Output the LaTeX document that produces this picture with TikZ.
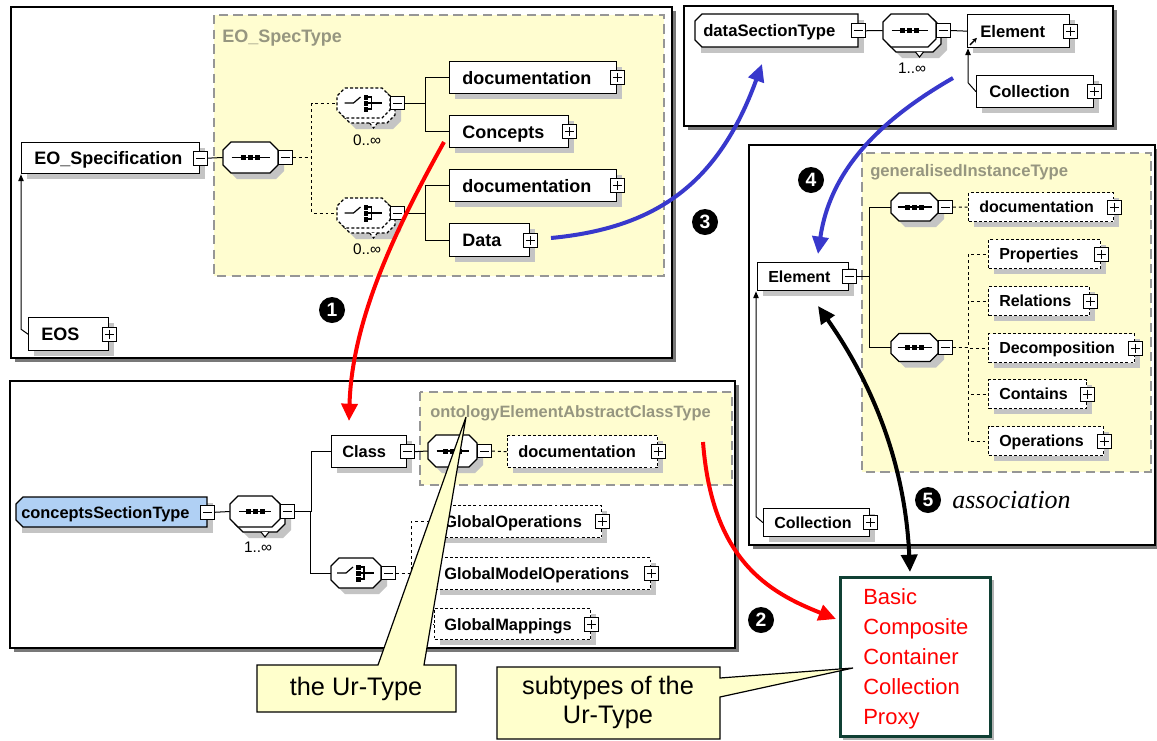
\documentclass[tikz,border=0pt]{standalone}
\usepackage{fontspec}
\setmainfont{Liberation Sans}
\newfontfamily\timesfont{Liberation Serif}
\usetikzlibrary{arrows.meta,calc}
\definecolor{ybg}{RGB}{255,253,208}
\definecolor{ybord}{RGB}{150,150,150}
\definecolor{ylab}{RGB}{150,150,128}
\definecolor{shad}{RGB}{196,196,196}
\definecolor{pshad}{RGB}{120,120,120}
\definecolor{callout}{RGB}{255,255,204}
\definecolor{arrblue}{RGB}{56,56,204}
\definecolor{arrred}{RGB}{255,0,0}
\definecolor{cblue}{RGB}{176,208,244}
\definecolor{bordteal}{RGB}{16,64,52}
\tikzset{
  elb/.style={draw, fill=white, line width=1pt, inner sep=0, anchor=north west},
  dsh/.style={dash pattern=on 2.2pt off 1.6pt},
  pmb/.style={draw, fill=white, line width=0.75pt, minimum size=10.3pt, inner sep=0},
  plusb/.style={pmb, path picture={
     \draw[line width=0.75pt] ([xshift=1.8pt]path picture bounding box.west) -- ([xshift=-1.8pt]path picture bounding box.east);
     \draw[line width=0.75pt] ([yshift=-1.8pt]path picture bounding box.north) -- ([yshift=1.8pt]path picture bounding box.south);}},
  minusb/.style={pmb, path picture={
     \draw[line width=0.75pt] ([xshift=1.8pt]path picture bounding box.west) -- ([xshift=-1.8pt]path picture bounding box.east);}},
  conn/.style={line width=0.75pt},
  dconn/.style={line width=0.75pt, dash pattern=on 2.2pt off 2.2pt},
  inh/.style={line width=0.75pt, -{Triangle[length=5pt,width=4pt]}},
  bigarrow/.style={line width=3pt, -{Triangle[length=13pt,width=12pt]}},
  num/.style={circle, fill=black, text=white, inner sep=0, minimum size=19.5pt, font=\fontsize{14.5}{14.5}\selectfont\bfseries},
  panel/.style={draw=black, fill=white, line width=1.3pt},
  ybox/.style={draw=ybord, fill=ybg, line width=1.1pt, dash pattern=on 7pt off 4pt},
  ylabel/.style={anchor=west, inner sep=0, text=ylab},
  eltext/.style={anchor=west, inner sep=0, font=\elfont, text height=\thh, text depth=0pt},
  mult/.style={inner sep=0, font=\fontsize{11.5}{12}\selectfont},
  redtxt/.style={anchor=base west, inner sep=0, text=arrred, font=\fontsize{16.5}{18}\selectfont},
  callouttxt/.style={inner sep=0, align=center, font=\fontsize{19}{22}\selectfont}
}
\def\elfont{\bfseries}\def\thh{9pt}\def\padpx{12}
\newcommand\elbox[7][]{%
  \fill[shad] (#3+6,#4+6) rectangle ++(#5,#6);
  \node[elb,minimum width=#5*0.75pt,minimum height=#6*0.75pt,#1] (#2) at (#3,#4) {};
  \node[eltext] (#2-t) at ($(#2.west)+(\padpx,0)$) {#7};}
\newcommand\lchambox[7]{%
  \fill[shad] (#3+6,#4+6) rectangle ++(#5,#6);
  \node[inner sep=0,anchor=north west,minimum width=#5*0.75pt,minimum height=#6*0.75pt] (#2) at (#3,#4) {};
  \draw[fill=#1,line width=1pt] (#3+7,#4) -- (#3+#5,#4) -- (#3+#5,#4+#6) -- (#3+7,#4+#6) -- (#3,#4+#6-7) -- (#3,#4+7) -- cycle;
  \node[eltext] (#2-t) at ($(#2.west)+(\padpx,0)$) {#7};}
\newcommand\plusat[1]{\node[plusb] (#1-p) at (#1.east) {};}
\newcommand\minusat[1]{\node[minusb] (#1-m) at (#1.east) {};}
\newcommand\minusafter[1]{\node[minusb,anchor=west] (#1-m) at (#1.east) {};}
\newcommand\octdraw[6]{%
  \path[#1] (#2+#6,#3) -- (#4-#6,#3) -- (#4,#3+#6) -- (#4,#5-#6) -- (#4-#6,#5) -- (#2+#6,#5) -- (#2,#5-#6) -- (#2,#3+#6) -- cycle;}
\newcommand\octo[7][]{%
  \pgfmathsetmacro\oL{#3-#5/2}\pgfmathsetmacro\oR{#3+#5/2}\pgfmathsetmacro\oT{#4-#6/2}\pgfmathsetmacro\oB{#4+#6/2}%
  \ifnum#7=1 \octdraw{fill=shad}{\oL+11}{\oT+11}{\oR+11}{\oB+11}{8}\fi
  \octdraw{fill=shad}{\oL+6}{\oT+6}{\oR+6}{\oB+6}{8}%
  \ifnum#7=1
    \octdraw{draw,fill=white,line width=0.9pt,#1}{\oL+5}{\oT+5}{\oR+5}{\oB+5}{8}%
    \draw[line width=0.8pt,fill=white,#1] (#3+6,\oB+5) -- (#3+10,\oB+10) -- (#3+14,\oB+5);
  \fi
  \octdraw{draw,fill=white,line width=1pt,#1}{\oL}{\oT}{\oR}{\oB}{8}%
  \node[inner sep=0,minimum width=#5*0.75pt,minimum height=#6*0.75pt] (#2) at (#3,#4) {};}
\newcommand\seqicon[3]{%
  \draw[line width=0.9pt] (#1-#3,#2) -- (#1+#3,#2);
  \foreach \ddx in {-7,0,7} {\fill (#1+\ddx-2.5,#2-2.5) rectangle ++(5,5);}}
\newcommand\choiceicon[2]{%
  \draw[line width=0.9pt] (#1-19,#2) -- (#1-10,#2) -- (#1-3,#2-6);
  \foreach \ddy in {-6,0,6} {\fill (#1,#2+\ddy-2) rectangle ++(4.5,4.5);}
  \draw[line width=0.9pt] (#1+4,#2-6) -- (#1+8,#2-6) -- (#1+8,#2+6) -- (#1+4,#2+6) (#1+4,#2) -- (#1+18,#2);}
\begin{document}
\begin{tikzpicture}[x=0.75pt,y=-0.75pt]
\useasboundingbox (0,0) rectangle (1157,740);
\fill[white] (0,0) rectangle (1157,740);
% ================= Panel 1
\fill[pshad] (15,11) rectangle (676,362);
\draw[panel] (11,7) rectangle (672,358);
\draw[ybox] (214,15) rectangle (664,276);
\node[ylabel,font=\fontsize{13.5}{16}\selectfont\bfseries] (lab1) at (222,38) {EO\_SpecType};
\def\elfont{\fontsize{13.5}{16}\selectfont\bfseries}\def\thh{9.7pt}\def\padpx{13}
\elbox{eospec}{21}{142}{178}{31}{EO\_Specification}\minusat{eospec}
\octo{seq1}{250.5}{157.5}{55}{31}{0}\seqicon{250.5}{157.5}{19}\minusafter{seq1}
\octo[dsh]{ch1}{363.5}{103}{53}{30}{1}\choiceicon{363.5}{103}\minusafter{ch1}
\node[mult] (ch1-x) at (367,140) {0..∞};
\octo[dsh]{ch2}{363.5}{213}{53}{30}{1}\choiceicon{363.5}{213}\minusafter{ch2}
\node[mult] (ch2-x) at (367,249) {0..∞};
\elbox{doc1}{449}{61}{167}{32}{documentation}\plusat{doc1}
\elbox{conc}{449}{115}{119}{32}{Concepts}\plusat{conc}
\elbox{doc2}{449}{169}{167}{32}{documentation}\plusat{doc2}
\elbox{data}{449}{223}{80}{33}{Data}\plusat{data}
\elbox{eos}{28}{317}{80}{33}{EOS}\plusat{eos}
\draw[conn] (eospec-m.east) -- (seq1.west);
\draw[dconn] (seq1-m.east) -| ([xshift=-18.75pt]ch1.west) -- (ch1.west);
\draw[dconn] (seq1-m.east) -| ([xshift=-18.75pt]ch2.west) -- (ch2.west);
\draw[conn] (ch1-m.east) -| ([xshift=-18pt]doc1.west) -- (doc1.west);
\draw[conn] (ch1-m.east) -| ([xshift=-18pt]conc.west) -- (conc.west);
\draw[conn] (ch2-m.east) -| ([xshift=-18pt]doc2.west) -- (doc2.west);
\draw[conn] (ch2-m.east) -| ([xshift=-18pt]data.west) -- (data.west);
\draw[inh] (eos.west) -- ++(-7,-5) -- (eospec.south west);
% ================= Panel 2
\fill[pshad] (688,10) rectangle (1117,130);
\draw[panel] (684,6) rectangle (1113,126);
\def\elfont{\fontsize{12.5}{15}\selectfont\bfseries}\def\thh{9pt}\def\padpx{8}
\lchambox{white}{dst}{695}{14}{163}{33}{dataSectionType}\minusat{dst}
\def\padpx{13}
\octo{seq2}{909.5}{30.5}{53}{33}{1}\seqicon{909.5}{30.5}{18}\minusafter{seq2}
\node[mult] (seq2-x) at (912,68) {1..∞};
\elbox{el2}{967}{14}{102}{33}{Element}\plusat{el2}
\draw[line width=1.1pt,-{Stealth[length=3.5pt,width=3.5pt]}] ([shift={(2.2pt,2.6pt)}]el2.south west) -- ++(7,-7);
\elbox{col2}{976}{75}{117}{32}{Collection}\plusat{col2}
\draw[conn] (dst-m.east) -- (seq2.west);
\draw[conn] (seq2-m.east) -- (el2.west);
\draw[inh] (col2.west) -- ++(-8,-9) -- ([xshift=0.75pt]el2.south west);
% ================= Panel 3
\fill[pshad] (753,149) rectangle (1159,549);
\draw[panel] (749,145) rectangle (1155,545);
\draw[ybox] (862,153) rectangle (1151,472);
\node[ylabel,font=\fontsize{12.5}{15}\selectfont\bfseries] (lab3) at (870,172) {generalisedInstanceType};
\def\elfont{\fontsize{12}{14}\selectfont\bfseries}\def\thh{8.6pt}\def\padpx{11}
\elbox{el3}{757}{262}{91}{28}{Element}\minusat{el3}
\octo{seq3a}{914.5}{207}{47}{28}{0}\seqicon{914.5}{207}{17}\minusafter{seq3a}
\octo{seq3b}{914.5}{347.5}{47}{28}{0}\seqicon{914.5}{347.5}{17}\minusafter{seq3b}
\elbox[dsh]{doc3}{968}{192}{145}{29}{documentation}\plusat{doc3}
\elbox[dsh]{props}{988}{239}{112}{29}{Properties}\plusat{props}
\elbox[dsh]{rels}{988}{286}{101}{29}{Relations}\plusat{rels}
\elbox[dsh]{decomp}{988}{333}{146}{29}{Decomposition}\plusat{decomp}
\elbox[dsh]{contains}{988}{379}{98}{29}{Contains}\plusat{contains}
\elbox[dsh]{opers}{988}{426}{115}{29}{Operations}\plusat{opers}
\elbox{col3}{763}{508}{106}{28}{Collection}\plusat{col3}
\draw[conn] (el3-m.east) -| ([xshift=-15.75pt]seq3a.west) -- (seq3a.west);
\draw[conn] (el3-m.east) -| ([xshift=-15.75pt]seq3b.west) -- (seq3b.west);
\draw[dconn] (seq3a-m.east) -- (doc3.west);
\foreach \nn in {props,rels,decomp,contains,opers}{
  \draw[dconn] (seq3b-m.east) -| ([xshift=-15pt]\nn.west) -- (\nn.west);}
\draw[inh] (col3.west) -- ++(-7,-6) -- ([xshift=-0.75pt]el3.south west);
\node[num] (n5) at (928,500) {5};
\node[anchor=base west,inner sep=0,font=\timesfont\itshape\fontsize{19.5}{22}\selectfont] (assoc) at (952,508) {association};
% ================= Panel 4
\fill[pshad] (14,385) rectangle (739,652);
\draw[panel] (10,381) rectangle (735,648);
\draw[ybox] (420,392) rectangle (732,485);
\node[ylabel,font=\fontsize{12.3}{15}\selectfont\bfseries] (lab4) at (430,413) {ontologyElementAbstractClassType};
\def\elfont{\fontsize{12.3}{14}\selectfont\bfseries}\def\thh{8.8pt}\def\padpx{5}
\lchambox{cblue}{cst}{16}{497}{191}{30}{conceptsSectionType}\minusat{cst}
\def\padpx{11}
\octo{seq4}{255}{511.5}{50}{31}{1}\seqicon{255}{511.5}{16}\minusafter{seq4}
\node[mult] (seq4-x) at (258,547) {1..∞};
\elbox{cls}{331}{435}{75}{32}{Class}\minusat{cls}
\octo{seq4b}{452.5}{451}{49}{32}{0}\seqicon{452.5}{451}{16}\minusafter{seq4b}
\elbox[dsh]{doc4}{507}{435}{150}{32}{documentation}\plusat{doc4}
\octo{ch4}{356}{573}{50}{30}{0}\choiceicon{356}{573}\minusafter{ch4}
\def\padpx{10}
\elbox[dsh]{gops}{434}{505}{167}{32}{GlobalOperations}\plusat{gops}
\elbox[dsh]{gmops}{434}{557}{216}{32}{GlobalModelOperations}\plusat{gmops}
\elbox[dsh]{gmap}{434}{608}{156}{31}{GlobalMappings}\plusat{gmap}
\draw[conn] (cst-m.east) -- (seq4.west);
\draw[conn] (seq4-m.east) -| ([xshift=-15pt]cls.west) -- (cls.west);
\draw[conn] (seq4-m.east) -| ([xshift=-15pt]ch4.west) -- (ch4.west);
\draw[conn] (cls-m.east) -- (seq4b.west);
\draw[dconn] (seq4b-m.east) -- (doc4.west);
\foreach \nn in {gops,gmops,gmap}{
  \draw[dconn] (ch4-m.east) -| ([xshift=-17.25pt]\nn.west) -- (\nn.west);}
% ================= Basic box
\fill[gray!60] (843,580) rectangle (994,740);
\node[draw=bordteal,line width=2pt,fill=white,anchor=north west,inner sep=0,minimum width=112.5pt,minimum height=119.25pt] (basic) at (839,576) {};
\node[redtxt] (b1) at (863,604) {Basic};
\node[redtxt] (b2) at (863,634) {Composite};
\node[redtxt] (b3) at (863,664) {Container};
\node[redtxt] (b4) at (863,694) {Collection};
\node[redtxt] (b5) at (863,724) {Proxy};
% ================= Big arrows
\coordinate (r1s) at (444,142); \coordinate (r1e) at (349,421);
\draw[bigarrow,arrred] (r1s) .. controls (395,230) and (352,320) .. (r1e);
\coordinate (r2s) at (703,442); \coordinate (r2e) at (836,619);
\draw[bigarrow,arrred] (r2s) .. controls (712,560) and (768,592) .. (r2e);
\coordinate (b3s) at (551,238); \coordinate (b3e) at (762,64);
\draw[bigarrow,arrblue] (b3s) .. controls (655,228) and (718,185) .. (b3e);
\coordinate (b4s) at (953,78); \coordinate (b4e) at (818,254);
\draw[bigarrow,arrblue] (b4s) .. controls (880,120) and (830,170) .. (b4e);
\coordinate (k5s) at (818,306); \coordinate (k5e) at (910,572);
\draw[line width=3pt,{Triangle[length=13pt,width=12pt]}-{Triangle[length=13pt,width=12pt]}] (k5s) .. controls (870,380) and (905,460) .. (k5e);
\node[num] (n1) at (332,310) {1};
\node[num] (n2) at (761,620) {2};
\node[num] (n3) at (705,222) {3};
\node[num] (n4) at (811,180) {4};
% ================= Callouts
\draw[fill=callout,line width=0.9pt] (257,665) -- (378,665) -- (466,417) -- (424,665) -- (456,665) -- (456,712) -- (257,712) -- cycle;
\node[callouttxt] (ur) at (356,689) {the Ur-Type};
\draw[fill=callout,line width=0.9pt] (497,667) -- (720,667) -- (720,678) -- (853,668) -- (720,697) -- (720,739) -- (497,739) -- cycle;
\node[callouttxt] (sub1) at (608,688) {subtypes of the};
\node[callouttxt] (sub2) at (608,717) {Ur-Type};
\end{tikzpicture}
\end{document}
